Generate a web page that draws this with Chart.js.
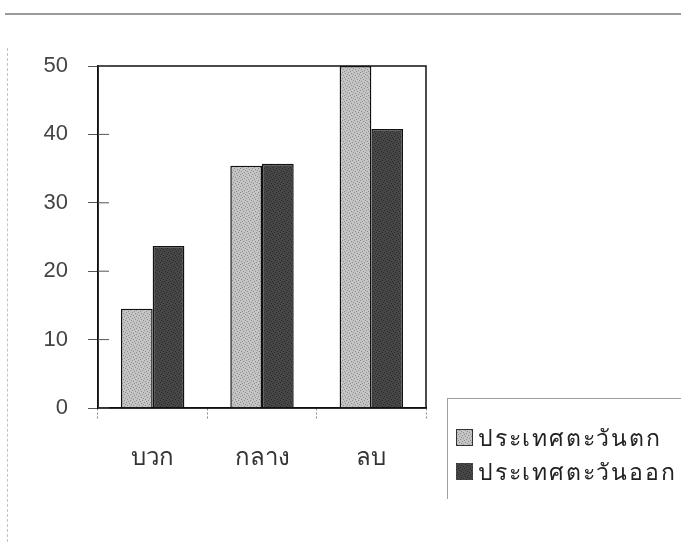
<!DOCTYPE html>
<html>
<head>
<meta charset="utf-8">
<script src="https://cdn.jsdelivr.net/npm/chart.js@4"></script>
<style>
  body { margin: 0; background: #fff; }
  #wrap { position: relative; width: 681px; height: 542px; }
  #topline { position: absolute; left: 5px; right: 0; top: 13px; border-top: 2px solid #9a9a9a; }
  #leftline { position: absolute; left: 7px; top: 48px; bottom: 0; border-left: 1px dashed #c4c4c4; }
  #legend {
    position: absolute; left: 447px; top: 398px; width: 240px; height: 100px;
    border: 1px solid #a0a0a0; border-bottom: none;
    font-family: "Noto Sans", "DejaVu Sans", sans-serif;
    font-size: 23px; letter-spacing: 1.8px; color: #222;
  }
  .item { position: absolute; left: 8px; height: 24px; line-height: 24px; white-space: nowrap; }
  .item canvas { vertical-align: middle; margin-right: 5px; position: relative; top: -2px; }
</style>
</head>
<body>
<div id="wrap">
  <div id="topline"></div>
  <div id="leftline"></div>
  <canvas id="chart" width="681" height="542"></canvas>
  <div id="legend"></div>
</div>
<script>
const categories = ["บวก", "กลาง", "ลบ"];
const seriesNames = ["ประเทศตะวันตก", "ประเทศตะวันออก"];
const westValues = [14.5, 35.4, 50];
const eastValues = [23.7, 35.7, 40.8];
const yTicks = [0, 10, 20, 30, 40, 50];

// stippled fills like the printed chart
function makePattern(base, dot) {
    const c = document.createElement("canvas");
    c.width = 6; c.height = 6;
    const g = c.getContext("2d");
    g.fillStyle = base;
    g.fillRect(0, 0, 6, 6);
    g.fillStyle = dot;
    const pts = [[0, 0], [3, 1], [1, 3], [4, 4], [2, 5], [5, 2]];
    pts.forEach(p => g.fillRect(p[0], p[1], 1, 1));
    return g.createPattern(c, "repeat");
}
const ctx = document.getElementById("chart").getContext("2d");
const westFill = makePattern("#c4c4c4", "#8e8e8e");
const eastFill = makePattern("#474747", "#2a2a2a");

const frame = {
    id: "frame",
    afterDraw(chart) {
        const { ctx, chartArea: a, scales } = chart;
        ctx.save();
        ctx.strokeStyle = "#111";
        ctx.lineWidth = 1.5;
        ctx.strokeRect(a.left, a.top, a.right - a.left, a.bottom - a.top);
        // inner half of the y ticks
        ctx.strokeStyle = "#555";
        ctx.lineWidth = 1;
        scales.y.ticks.forEach((t, i) => {
            const y = scales.y.getPixelForTick(i);
            ctx.beginPath();
            ctx.moveTo(a.left, y);
            ctx.lineTo(a.left + 11, y);
            ctx.stroke();
        });
        ctx.restore();
    }
};

new Chart(ctx, {
    type: "bar",
    data: {
        labels: categories,
        datasets: [
            {
                label: seriesNames[0],
                data: westValues,
                backgroundColor: westFill,
                borderColor: "#111",
                borderWidth: 1.5,
                categoryPercentage: 0.58,
                barPercentage: 1.0,
            },
            {
                label: seriesNames[1],
                data: eastValues,
                backgroundColor: eastFill,
                borderColor: "#111",
                borderWidth: 1.5,
                categoryPercentage: 0.58,
                barPercentage: 1.0,
            },
        ],
    },
    options: {
        responsive: false,
        animation: false,
        layout: { padding: { left: 0, right: 255, top: 66, bottom: 0 } },
        plugins: { legend: { display: false }, tooltip: { enabled: false } },
        scales: {
            x: {
                offset: true,
                grid: {
                    offset: true,
                    drawOnChartArea: false,
                    drawTicks: true,
                    tickLength: 12,
                    tickColor: "#8a8a8a",
                    tickBorderDash: [2, 2],
                },
                border: { display: true, color: "#111", width: 1.5 },
                ticks: {
                    padding: 24,
                    color: "#333",
                    font: { family: "Noto Sans, DejaVu Sans, sans-serif", size: 24 },
                },
                afterFit(s) { s.height = 134; },
            },
            y: {
                min: 0,
                max: 50,
                afterBuildTicks(s) { s.ticks = yTicks.map(v => ({ value: v })); },
                grid: {
                    drawOnChartArea: false,
                    tickLength: 10,
                    tickColor: "#555",
                },
                border: { display: true, color: "#111", width: 1.5 },
                ticks: {
                    padding: 20,
                    color: "#444",
                    font: { family: "Liberation Sans, Arial, sans-serif", size: 22 },
                },
                afterFit(s) { s.width = 98; },
            },
        },
    },
    plugins: [frame],
});

// legend drawn as html, swatches reuse the bar fills
const legend = document.getElementById("legend");
[westFill, eastFill].forEach((fill, i) => {
    const row = document.createElement("div");
    row.className = "item";
    row.style.top = (26 + i * 34) + "px";
    const sw = document.createElement("canvas");
    sw.width = 17; sw.height = 17;
    const g = sw.getContext("2d");
    g.fillStyle = fill;
    g.fillRect(0, 0, 17, 17);
    if (i === 0) { g.strokeStyle = "#333"; g.strokeRect(0.5, 0.5, 16, 16); }
    row.appendChild(sw);
    row.appendChild(document.createTextNode(seriesNames[i]));
    legend.appendChild(row);
});
</script>
</body>
</html>
